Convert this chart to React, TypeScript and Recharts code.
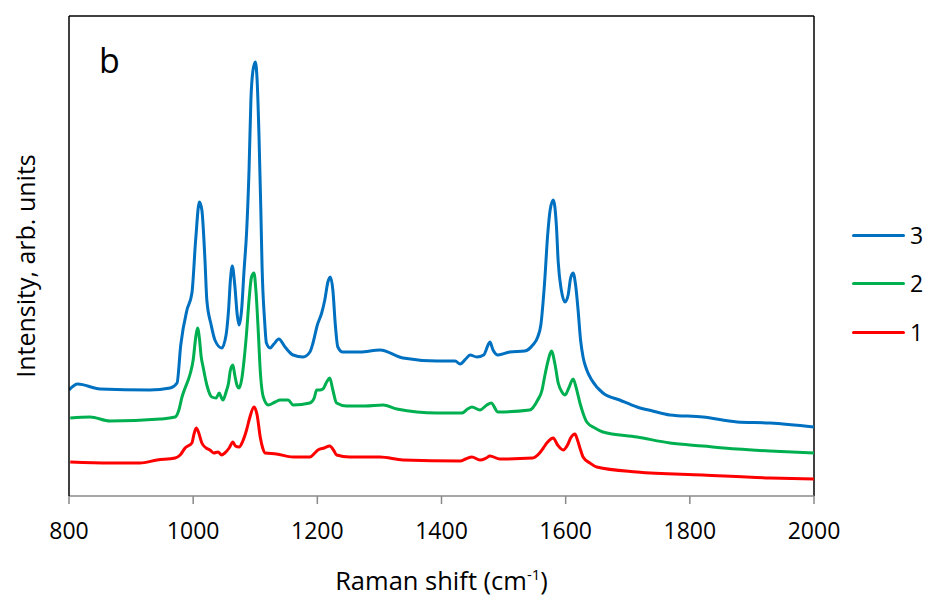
import { LineChart, Line, XAxis, YAxis, ReferenceLine } from 'recharts'

// Raman spectra, three samples (offset stacked). Intensity in arbitrary units.
const shift1 = [802, 866, 914, 942, 971, 979, 987, 998, 1001, 1005, 1009, 1014, 1021, 1027, 1033, 1040, 1046, 1051, 1058, 1064, 1068, 1074, 1080, 1086, 1091, 1098, 1103, 1108, 1112, 1116, 1134, 1161, 1188, 1196, 1201, 1211, 1220, 1226, 1231, 1252, 1301, 1338, 1430, 1439, 1449, 1462, 1472, 1478, 1494, 1547, 1558, 1564, 1571, 1580, 1587, 1596, 1603, 1608, 1615, 1619, 1624, 1628, 1639, 1650, 1715, 1821, 1929, 2000]
const int1 = [34, 33, 33, 36, 38, 41, 48, 53, 61, 68, 63, 53, 48, 46, 43, 44, 41, 43, 48, 54, 50, 49, 55, 66, 78, 89, 81, 59, 48, 43, 42, 39, 39, 43, 46, 48, 50, 46, 41, 39, 39, 36, 35, 37, 39, 36, 38, 40, 37, 38, 43, 48, 54, 58, 51, 46, 51, 58, 62, 56, 46, 39, 33, 29, 24, 21, 18, 17]

const shift2 = [802, 834, 866, 947, 971, 977, 982, 987, 992, 996, 1000, 1004, 1007, 1010, 1013, 1016, 1022, 1030, 1037, 1042, 1045, 1048, 1053, 1057, 1060, 1064, 1067, 1071, 1074, 1078, 1082, 1086, 1090, 1094, 1098, 1101, 1105, 1108, 1113, 1121, 1132, 1140, 1153, 1161, 1188, 1195, 1199, 1204, 1209, 1215, 1220, 1225, 1231, 1247, 1277, 1306, 1328, 1393, 1433, 1442, 1449, 1462, 1473, 1480, 1491, 1542, 1555, 1562, 1566, 1572, 1577, 1583, 1588, 1594, 1599, 1605, 1612, 1617, 1623, 1629, 1634, 1647, 1660, 1715, 1768, 1821, 1876, 1929, 2000]
const int2 = [78, 79, 75, 77, 79, 86, 99, 108, 116, 124, 136, 158, 168, 158, 139, 129, 111, 99, 98, 103, 99, 96, 104, 113, 126, 131, 121, 110, 108, 116, 136, 163, 196, 219, 223, 206, 163, 126, 99, 91, 94, 96, 96, 91, 93, 98, 106, 106, 107, 114, 118, 106, 93, 90, 90, 91, 87, 83, 83, 87, 89, 86, 91, 93, 84, 86, 96, 106, 119, 136, 145, 131, 113, 104, 101, 108, 117, 108, 93, 81, 74, 68, 64, 59, 53, 50, 47, 45, 43]

const shift3 = [800, 814, 850, 930, 963, 974, 980, 990, 998, 1004, 1010, 1014, 1019, 1022, 1029, 1035, 1046, 1053, 1057, 1060, 1063, 1067, 1071, 1074, 1078, 1082, 1086, 1090, 1093, 1096, 1100, 1103, 1106, 1109, 1111, 1115, 1118, 1124, 1130, 1138, 1148, 1161, 1177, 1188, 1193, 1200, 1207, 1212, 1217, 1221, 1225, 1229, 1233, 1241, 1269, 1301, 1338, 1393, 1422, 1430, 1439, 1446, 1457, 1468, 1475, 1478, 1483, 1491, 1510, 1534, 1547, 1555, 1560, 1566, 1571, 1575, 1580, 1585, 1588, 1593, 1599, 1604, 1608, 1612, 1616, 1620, 1624, 1628, 1634, 1642, 1660, 1687, 1715, 1740, 1768, 1821, 1876, 1929, 2000]
const int3 = [106, 112, 107, 106, 108, 113, 151, 186, 203, 256, 294, 286, 236, 196, 171, 156, 148, 161, 186, 216, 230, 211, 181, 171, 186, 226, 263, 326, 396, 424, 434, 416, 361, 286, 229, 176, 153, 148, 152, 157, 149, 141, 139, 144, 153, 171, 183, 196, 214, 219, 206, 171, 149, 144, 144, 146, 138, 135, 135, 132, 137, 141, 139, 141, 151, 154, 146, 141, 144, 145, 151, 159, 171, 213, 261, 286, 296, 271, 234, 206, 194, 201, 218, 223, 211, 186, 156, 139, 126, 116, 103, 96, 89, 85, 81, 79, 74, 73, 69]

const xTicks = [800, 1000, 1200, 1400, 1600, 1800, 2000]
const yMax = 480

const toPoints = (xs: number[], ys: number[]) => xs.map((shift, i) => ({ shift, intensity: ys[i] }))

const series = [
  { name: '1', color: '#FF0000', data: toPoints(shift1, int1) },
  { name: '2', color: '#00B050', data: toPoints(shift2, int2) },
  { name: '3', color: '#0070C0', data: toPoints(shift3, int3) },
]

const font = '"Open Sans", sans-serif'

function YTitle({ viewBox }: any) {
  const x = viewBox.x + viewBox.width - 44
  const y = viewBox.y + viewBox.height / 2 + 10
  return (
    <text x={x} y={y} transform={`rotate(-90 ${x} ${y})`} textAnchor="middle" dominantBaseline="central" fontSize={25} fill="#000" fontFamily={font}>
      Intensity, arb. units
    </text>
  )
}

function XTitle({ viewBox }: any) {
  const x = viewBox.x + viewBox.width / 2
  return (
    <text x={x} y={590} textAnchor="middle" fontSize={25.5} fill="#000" fontFamily={font}>
      Raman shift (cm<tspan dy={-10} fontSize={15}>-1</tspan><tspan dy={10}>)</tspan>
    </text>
  )
}

export default function App() {
  return (
    <div style={{ position: 'absolute', left: 0, top: 0, width: 927, height: 599, background: '#fff', fontFamily: font }}>
      <LineChart width={927} height={599} data={series[0].data} margin={{ top: 16, right: 113, bottom: 43, left: 29 }}>
        <XAxis
          dataKey="shift"
          type="number"
          domain={[800, 2000]}
          ticks={xTicks}
          allowDataOverflow
          height={60}
          tickSize={8}
          tickMargin={19}
          stroke="#898989"
          strokeWidth={1.5}
          tick={{ fill: '#000', fontSize: 23, fontFamily: font }}
          label={{ content: <XTitle /> }}
        />
        <YAxis
          type="number"
          domain={[0, yMax]}
          allowDataOverflow
          width={40}
          tick={false}
          tickLine={false}
          axisLine={{ stroke: '#000', strokeWidth: 1.5 }}
          label={{ content: <YTitle /> }}
        />
        <ReferenceLine y={yMax} stroke="#000" strokeWidth={1.5} />
        <ReferenceLine x={2000} stroke="#000" strokeWidth={1.5} />
        {series.map((s) => (
          <Line
            key={s.name}
            data={s.data}
            dataKey="intensity"
            name={s.name}
            type="monotone"
            stroke={s.color}
            strokeWidth={3}
            dot={false}
            activeDot={false}
            isAnimationActive={false}
          />
        ))}
      </LineChart>

      <div style={{ position: 'absolute', left: 99, top: 43, fontSize: 34, lineHeight: 1, color: '#000' }}>b</div>

      <div style={{ position: 'absolute', left: 852, top: 211 }}>
        {[...series].reverse().map((s) => (
          <div key={s.name} style={{ display: 'flex', alignItems: 'center', height: 48.5 }}>
            <div style={{ width: 53, height: 3, background: s.color, borderRadius: 1.5 }} />
            <span style={{ marginLeft: 5, fontSize: 23, lineHeight: 1, color: '#000' }}>{s.name}</span>
          </div>
        ))}
      </div>
    </div>
  )
}
